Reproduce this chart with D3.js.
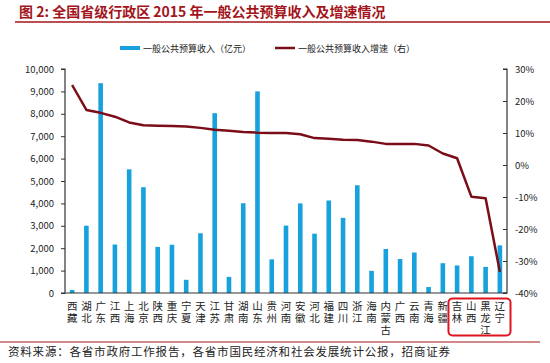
<!DOCTYPE html>
<html><head><meta charset="utf-8">
<script src="https://cdn.jsdelivr.net/npm/d3@7/dist/d3.min.js"></script>
<style>
body{margin:0;background:#fff;}
svg{display:block;}
text{font-family:"Noto Sans CJK SC","Liberation Sans",sans-serif;}
</style></head>
<body><svg id="c" width="550" height="363"></svg>
<script>
const categories = ["西藏","湖北","广东","江西","上海","北京","陕西","重庆","宁夏","天津","江苏","甘肃","湖南","山东","贵州","河南","安徽","河北","福建","四川","浙江","海南","内蒙古","广西","云南","青海","新疆","吉林","山西","黑龙江","辽宁"];
const revenue = [137,3005,9366,2165,5520,4724,2060,2155,590,2667,8028,720,4008,9000,1503,3009,4000,2649,4130,3355,4810,990,1964,1515,1808,267,1331,1229,1642,1166,2127];
const growth = [25.0,17.2,16.3,15.1,13.3,12.4,12.3,12.2,12.0,11.6,11.0,10.7,10.3,10.1,10.0,10.0,9.6,8.4,8.2,7.9,7.8,7.3,6.6,6.6,6.6,6.1,3.6,2.1,-9.9,-10.4,-33.4];
const leftTicks = [0,1000,2000,3000,4000,5000,6000,7000,8000,9000,10000];
const rightTicks = [-40,-30,-20,-10,0,10,20,30];
const highlighted = ["吉林","山西","黑龙江","辽宁"];

const svg = d3.select("#c");
const L = 65, R = 507, T = 69, B = 293;
const x = d3.scaleBand().domain(categories).range([L, R]);
const yL = d3.scaleLinear().domain([0,10000]).range([B, T]);
const yR = d3.scaleLinear().domain([-40,30]).range([B, T]);

// title
svg.append("text").attr("x",19).attr("y",17).attr("font-size",14).attr("font-weight","bold")
  .attr("fill","#a3151b").text("图 2:  全国省级行政区 2015 年一般公共预算收入及增速情况");
svg.append("line").attr("x1",15).attr("x2",550).attr("y1",22).attr("y2",22).attr("stroke","#a3151b").attr("stroke-width",1.5);

// legend
svg.append("rect").attr("x",120).attr("y",46).attr("width",20).attr("height",4).attr("fill","#17a2de");
svg.append("text").attr("x",143).attr("y",51.5).attr("font-size",9).attr("fill","#222").text("一般公共预算收入（亿元）");
svg.append("line").attr("x1",275).attr("x2",295).attr("y1",48).attr("y2",48).attr("stroke","#7a0d17").attr("stroke-width",2.5);
svg.append("text").attr("x",298).attr("y",51.5).attr("font-size",9).attr("fill","#222").text("一般公共预算收入增速（右）");

// bars
const bw = 4.6;
svg.append("g").selectAll("rect").data(categories).join("rect")
  .attr("x", (d)=>x(d)+x.bandwidth()/2-bw/2)
  .attr("width", bw)
  .attr("y", (d,i)=>yL(revenue[i]))
  .attr("height", (d,i)=>B-yL(revenue[i]))
  .attr("fill","#17a2de");

// axes
const axL = d3.axisLeft(yL).tickValues(leftTicks).tickFormat(d3.format(",")).tickSize(4).tickPadding(7);
const gL = svg.append("g").attr("transform",`translate(${L},0)`).call(axL);
const axR = d3.axisRight(yR).tickValues(rightTicks).tickFormat(d=>d+"%").tickSize(-4).tickPadding(8);
const gR = svg.append("g").attr("transform",`translate(${R},0)`).call(axR);
[gL,gR].forEach(g=>{
  g.select(".domain").attr("stroke","#333").attr("stroke-width",1.2);
  g.selectAll(".tick line").attr("stroke","#333");
  g.selectAll(".tick text").attr("font-size",9.5).attr("fill","#222").attr("font-family","'Liberation Sans',Arial,sans-serif");
});
gL.select(".domain").attr("d",`M-4,${T}H0V${B}H-4`);
gR.select(".domain").attr("d",`M-4,${T}H0V${B}H-4`);
svg.append("line").attr("x1",L).attr("x2",R).attr("y1",B).attr("y2",B).attr("stroke","#333").attr("stroke-width",1.2);

// line
const line = d3.line().x((d,i)=>x(categories[i])+x.bandwidth()/2).y(d=>yR(d));
svg.append("path").datum(growth).attr("d",line).attr("fill","none")
  .attr("stroke","#7a0d17").attr("stroke-width",2.5).attr("stroke-linejoin","round");

// x labels (vertical text)
svg.append("g").selectAll("text").data(categories).join("text")
  .attr("x", d=>x(d)+x.bandwidth()/2)
  .attr("y", 301)
  .attr("writing-mode","vertical-rl")
  .style("letter-spacing","1.5px")
  .attr("font-size",10.5).attr("fill","#222")
  .text(d=>d);

// highlight box
const hx0 = x(highlighted[0]) - 1.5, hx1 = x(highlighted[highlighted.length-1]) + x.bandwidth() + 3.5;
svg.append("rect").attr("x",hx0).attr("y",298.5).attr("width",hx1-hx0).attr("height",37).attr("rx",4)
  .attr("fill","none").attr("stroke","#e0141c").attr("stroke-width",2);

// bottom
svg.append("line").attr("x1",0).attr("x2",540).attr("y1",342).attr("y2",342).attr("stroke","#a3151b").attr("stroke-width",1.2);
svg.append("text").attr("x",8).attr("y",356).attr("font-size",11.5).attr("fill","#222")
  .style("letter-spacing","0.8px")
  .text("资料来源：各省市政府工作报告，各省市国民经济和社会发展统计公报，招商证券");
</script></body></html>
